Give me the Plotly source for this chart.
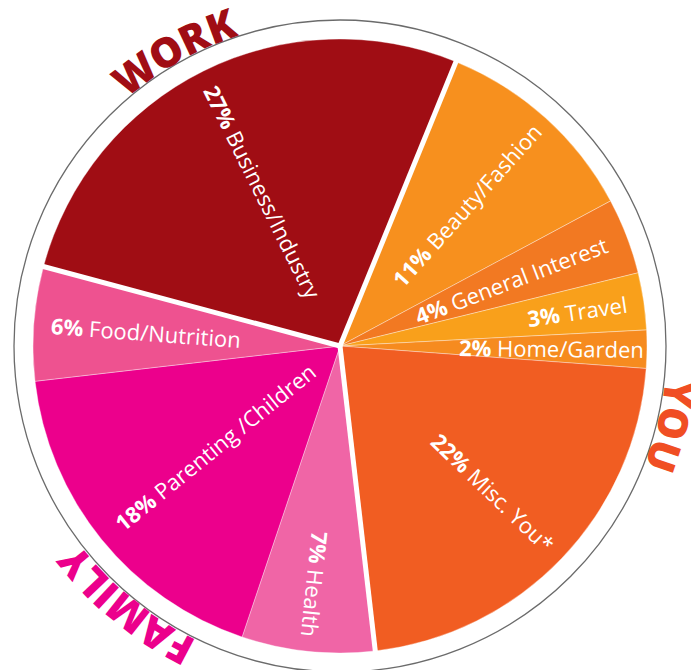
import math
import plotly.graph_objects as go

# ---------------- data ----------------
labels = ["Business/Industry", "Beauty/Fashion", "General Interest", "Travel",
          "Home/Garden", "Misc. You*", "Health", "Parenting /Children", "Food/Nutrition"]
values = [27, 11, 4, 3, 2, 22, 7, 18, 6]
groups = ["WORK", "YOU", "YOU", "YOU", "YOU", "YOU", "FAMILY", "FAMILY", "FAMILY"]
slice_colors = ["#A00D14", "#F7901E", "#F27922", "#F9A01B", "#F68B1F",
                "#F15D22", "#F065A6", "#EC008C", "#EE5290"]
group_names = ["WORK", "YOU", "FAMILY"]
group_colors = ["#A00D14", "#F04E23", "#EC008C"]

# ---------------- geometry / style ----------------
W, H = 699, 670
CX, CY, R = 332, 338, 307
RING_R = 326
START = 285.0            # first slice start, degrees clockwise from 12 o'clock
FONT = "Open Sans"
LABEL_FS = 22
LABEL_END_R = 290
GROUP_FS = 41
GROUP_R = 343
GROUP_CENTER = {"WORK": 330.8, "YOU": 103.7, "FAMILY": 219.4}
CHAR_W = {"W": 0.96, "O": 0.80, "R": 0.66, "K": 0.65, "Y": 0.60, "U": 0.75,
          "F": 0.55, "A": 0.70, "M": 0.93, "I": 0.33, "L": 0.55}


def polar(theta_deg, r):
    t = math.radians(theta_deg)
    return CX + r * math.sin(t), CY - r * math.cos(t)


def px(x):
    return x / W


def py(y):
    return 1 - y / H


def norm_angle(a):
    return (a + 180) % 360 - 180


fig = go.Figure(go.Pie(
    labels=labels, values=values, sort=False, direction="clockwise",
    rotation=norm_angle(START),
    marker=dict(colors=slice_colors, line=dict(color="rgba(255,255,255,0.45)", width=0.8)),
    textinfo="none", hoverinfo="label+percent", showlegend=False,
    domain=dict(x=[px(CX - R), px(CX + R)], y=[py(CY + R), py(CY - R)]),
))

total = sum(values)
annotations = []
shapes = []

# slice angles
angles = []
cum = 0
for v in values:
    a0 = START + 360 * cum / total
    cum += v
    a1 = START + 360 * cum / total
    angles.append((a0, a1))

# slice labels
for lab, v, (a0, a1) in zip(labels, values, angles):
    mid = ((a0 + a1) / 2) % 360
    plain = f"{v}% {lab}"
    est_w = 11.2 * len(plain)
    rc = LABEL_END_R - est_w / 2
    x, y = polar(mid, rc)
    ang = mid - 90 if mid <= 190 else mid - 270
    annotations.append(dict(
        x=px(x), y=py(y), xref="paper", yref="paper",
        text=f"<b>{v}%</b> {lab}", textangle=norm_angle(ang), showarrow=False,
        xanchor="center", yanchor="middle",
        font=dict(color="white", size=LABEL_FS, family=FONT)))

# white separators between groups
n = len(values)
for i in range(n):
    if groups[i] != groups[i - 1]:
        a = angles[i][0]
        x0, y0 = polar(a, 0)
        x1, y1 = polar(a, R + 4)
        shapes.append(dict(type="line", xref="paper", yref="paper",
                           x0=px(x0), y0=py(y0), x1=px(x1), y1=py(y1),
                           line=dict(color="white", width=5)))

# outer ring
shapes.append(dict(type="circle", xref="paper", yref="paper",
                   x0=px(CX - RING_R), x1=px(CX + RING_R),
                   y0=py(CY + RING_R), y1=py(CY - RING_R),
                   line=dict(color="#6b6b6b", width=1.3)))

# group words along the arc
SPACING = 2
for name, col in zip(group_names, group_colors):
    widths = [CHAR_W.get(c, 0.7) * GROUP_FS for c in name]
    tot = sum(widths) + SPACING * (len(name) - 1)
    s = -tot / 2
    for c, w in zip(name, widths):
        cpos = s + w / 2
        theta = GROUP_CENTER[name] + math.degrees(cpos / GROUP_R)
        x, y = polar(theta, GROUP_R)
        annotations.append(dict(
            x=px(x), y=py(y), xref="paper", yref="paper", text=c,
            textangle=norm_angle(theta), showarrow=False,
            xanchor="center", yanchor="middle",
            font=dict(color=col, size=GROUP_FS, family=FONT, weight=800)))
        s += w + SPACING

fig.update_layout(
    width=W, height=H, margin=dict(l=0, r=0, t=0, b=0),
    paper_bgcolor="white", plot_bgcolor="white",
    annotations=annotations, shapes=shapes,
)

fig.write_html("out.html")
